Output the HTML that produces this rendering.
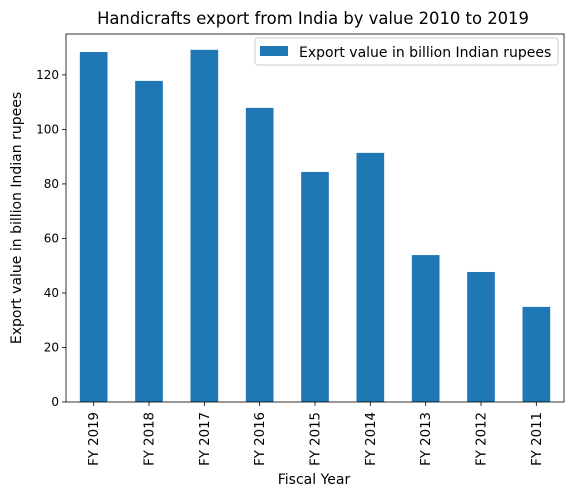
<!DOCTYPE html>
<html><head><meta charset="utf-8"><style>
body{margin:0;background:#fff;}
svg{display:block;font-family:"DejaVu Sans","Liberation Sans",sans-serif;}
</style></head><body>
<svg id="c" width="571" height="497" xmlns="http://www.w3.org/2000/svg">
<text x="313" y="24" font-size="16.4" text-anchor="middle" fill="#000">Handicrafts export from India by value 2010 to 2019</text>
<g id="plot"></g>
<text x="314" y="484" font-size="14" text-anchor="middle">Fiscal Year</text>
<text transform="translate(21,218) rotate(-90)" font-size="14" text-anchor="middle">Export value in billion Indian rupees</text>
<g>
<rect x="255" y="38" width="303" height="27" rx="3" fill="#fff" stroke="#ccc"/>
<rect x="260" y="46" width="28" height="10" fill="#1f77b4"/>
<text x="299" y="57" font-size="14">Export value in billion Indian rupees</text>
</g>
</svg>
<script>
const categories=["FY 2019","FY 2018","FY 2017","FY 2016","FY 2015","FY 2014","FY 2013","FY 2012","FY 2011"];
const values=[128.4,117.8,129.2,107.9,84.4,91.4,53.9,47.7,34.9];
const yTicks=[0,20,40,60,80,100,120];
const L=66,R=564,T=34,B=402,yMax=135;
const ys=v=>B-(v/yMax)*(B-T);
const slot=(R-L)/categories.length;
const xs=i=>L+slot*(i+0.5);
const NS="http://www.w3.org/2000/svg";
const g=document.getElementById('plot');
function mk(t,a){const e=document.createElementNS(NS,t);for(const k in a)e.setAttribute(k,a[k]);g.appendChild(e);return e;}
values.forEach((v,i)=>{
 const r=mk('rect',{x:xs(i)-slot/4,y:ys(v),width:slot/2,height:B-ys(v),fill:'#1f77b4'});
 
 
});
yTicks.forEach(t=>{
 const y=ys(t);
 mk('line',{x1:L-4,x2:L,y1:y,y2:y,stroke:'#000','stroke-width':0.8});
 const tx=mk('text',{x:L-7,y:y+4,'font-size':12,'text-anchor':'end'});tx.textContent=t;
 
 
});
categories.forEach((c,i)=>{
 const x=xs(i);
 mk('line',{x1:x,x2:x,y1:B,y2:B+4,stroke:'#000','stroke-width':0.8});
 const tx=mk('text',{transform:`translate(${x+4.5},${B+10}) rotate(-90)`,'font-size':13.3,'text-anchor':'end'});tx.textContent=c;
 
 
});
const fr=mk('rect',{x:L,y:T,width:R-L,height:B-T,fill:'none',stroke:'#000','stroke-width':0.8});


</script>
</body></html>
